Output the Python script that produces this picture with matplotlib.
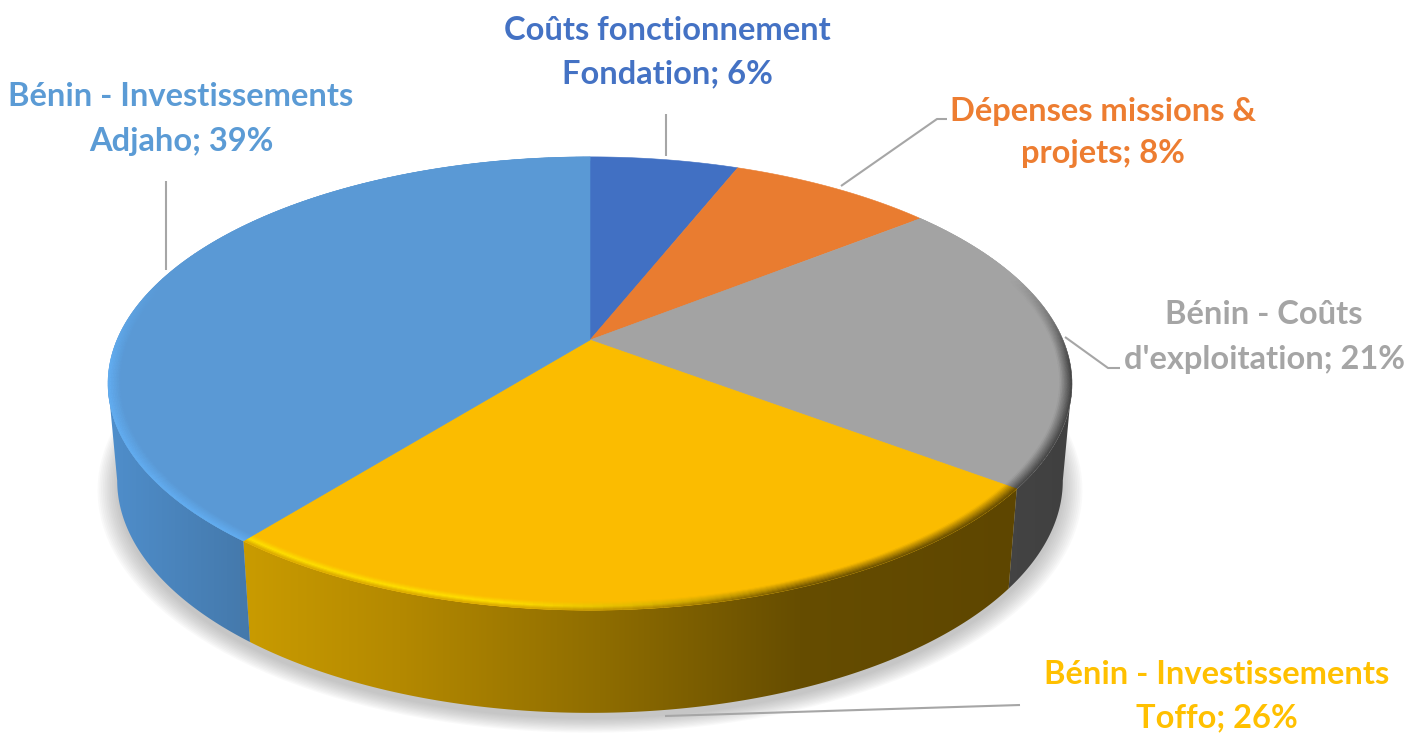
import numpy as np
import matplotlib
matplotlib.use("Agg")
import matplotlib.pyplot as plt
from matplotlib.collections import PolyCollection
from matplotlib.colors import to_rgb
from matplotlib.patches import Polygon

# --- data ---
categories = ["Coûts fonctionnement\nFondation", "Dépenses missions &\nprojets", "Bénin - Coûts\nd'exploitation",
              "Bénin - Investissements\nToffo", "Bénin - Investissements\nAdjaho"]
# shares, the labels are the printed percentages
values = [6.0, 8.3, 21.0, 25.4, 39.3]
percent_labels = ["6%", "8%", "21%", "26%", "39%"]
face_colors = ["#4170c3", "#e97c30", "#a3a3a3", "#fbbc00", "#5a99d5"]
text_colors = ["#4472c4", "#ed7d31", "#a5a5a5", "#ffc000", "#5b9bd5"]

# label centres and leader lines, in pixels
label_x = [667, 1103, 1264, 1217, 181]
label_y = [[30, 74], [111, 154], [315, 359], [674, 718], [97, 142]]
leaders = [[(666, 114), (666, 156)],
           [(841, 186), (937, 119), (947, 119)],
           [(1065, 337), (1108, 368), (1120, 368)],
           [(665, 716), (1020, 705)],
           [(166, 181), (166, 270)]]

# wall shading along x
wall_stops = {2: ([1000, 1070], ["#444444", "#404040"]),
              3: ([247, 400, 600, 800, 1015], ["#c99b00", "#b48900", "#8f6d00", "#664d00", "#5e4600"]),
              4: ([110, 253], ["#4f8ecb", "#4478aa"])}

# perspective of the two discs
TOP = dict(A=473, C=340, M=153)
BOTTOM = dict(A=464, C=436, M=140)
K = 0.192


def project(r, theta, A, C, M):
    x = r * np.sin(theta)
    y = r * np.cos(theta)
    den = 1 + K * y
    return 590 + A * x / den, (C - M * y) / den


def lerp(a, b, t):
    return tuple(np.array(a) + (np.array(b) - np.array(a)) * t)


def wall_color(i, x):
    xs, cols = wall_stops[i]
    rgb = np.array([to_rgb(c) for c in cols])
    return np.stack([np.interp(x, xs, rgb[:, k]) for k in range(3)], axis=-1)


def bevel_color(i, t, x, vis):
    face = to_rgb(face_colors[i])
    if i == 4:
        return lerp(face, to_rgb("#62aef2"), t * vis)
    if i == 3:
        bright = to_rgb("#ffe000")
        if t < 0.55:
            left = lerp(face, bright, t / 0.55)
        else:
            left = lerp(bright, to_rgb("#d8a600"), (t - 0.55) / 0.45)
        right = lerp(face, wall_color(3, x), t)
        return lerp(left, right, np.clip((x - 500) / 300, 0, 1))
    if i == 2:
        return lerp(face, wall_color(2, x), t * vis)
    return face


fig = plt.figure(figsize=(14.07, 7.33), dpi=100)
ax = fig.add_axes([0, 0, 1, 1])
ax.axis("off")

edges = np.radians(np.cumsum([0] + values) * 3.6)
circle = np.radians(np.arange(0, 361, 2))
# where the rim turns back behind the disc, the wall stops there
tangent = np.arccos(-K)

# --- soft shadow ---
for r in np.linspace(1.04, 1.0, 12):
    px, py = project(r, circle, **BOTTOM)
    ax.fill(px, py + 6, color="#808080", alpha=0.045, lw=0, zorder=1)

# --- walls, a gradient image clipped to each slice's side ---
gx = np.arange(0, 1408)
for i in wall_stops:
    start = max(edges[i], tangent)
    end = min(edges[i + 1], 2 * np.pi - tangent)
    th = np.linspace(start, end, 200)
    x1, y1 = project(1, th, **TOP)
    x2, y2 = project(1, th[::-1], **BOTTOM)
    poly = Polygon(np.c_[np.r_[x1, x2], np.r_[y1, y2]], closed=True, transform=ax.transData,
                   facecolor="none", edgecolor="none")
    ax.add_patch(poly)
    im = ax.imshow(wall_color(i, gx)[None, :, :], extent=(0, 1407, 733, 0), aspect="auto",
                   interpolation="bilinear", zorder=2)
    im.set_clip_path(poly)

# --- top face ---
for i in range(len(values)):
    th = np.linspace(edges[i], edges[i + 1], 200)
    px, py = project(1, th, **TOP)
    ax.fill(np.r_[590, px], np.r_[340, py], color=face_colors[i], lw=0.4, zorder=3)

# --- bevel on the rim ---
polys, cols = [], []
radii = np.linspace(0.975, 1.0, 9)
for i in wall_stops:
    th = np.linspace(edges[i], edges[i + 1], int(values[i] * 3.6) + 2)
    for a, b in zip(th[:-1], th[1:]):
        vis = np.clip((0.3 - np.cos((a + b) / 2)) / 0.4, 0, 1)
        for j in range(len(radii) - 1):
            r0, r1 = radii[j], radii[j + 1]
            xa, ya = project(r0, a, **TOP)
            xb, yb = project(r0, b, **TOP)
            xc, yc = project(r1, b, **TOP)
            xd, yd = project(r1, a, **TOP)
            polys.append([(xa, ya), (xb, yb), (xc, yc), (xd, yd)])
            cols.append(bevel_color(i, (j + 0.5) / (len(radii) - 1), (xa + xb) / 2, vis))
ax.add_collection(PolyCollection(polys, facecolors=cols, edgecolors="face", linewidths=0.3, zorder=4))

# --- leader lines and labels ---
for pts in leaders:
    ax.plot(*zip(*pts), color="#a6a6a6", lw=1.5, zorder=5, solid_capstyle="butt")

for i, cat in enumerate(categories):
    first, second = cat.split("\n")
    second = f"{second}; {percent_labels[i]}"
    for txt, y in zip([first, second], label_y[i]):
        ax.text(label_x[i], y, txt, color=text_colors[i], family="Lato", fontweight="bold",
                fontsize=23.5, ha="center", va="center", zorder=6)

ax.set_xlim(0, 1407)
ax.set_ylim(733, 0)
fig.savefig("out.png", dpi=100, facecolor="white")
